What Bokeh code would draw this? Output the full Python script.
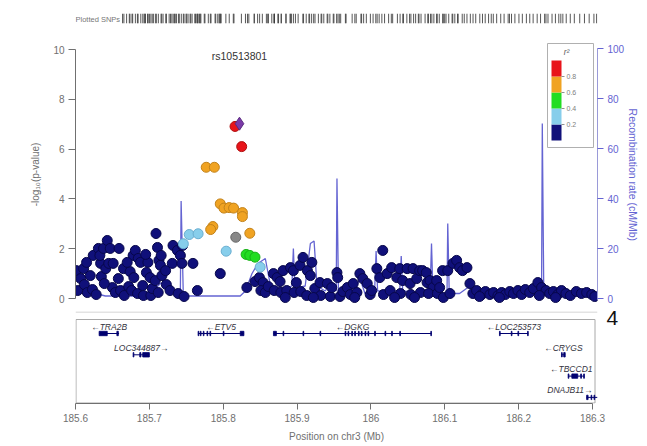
from bokeh.plotting import figure
from bokeh.layouts import column
from bokeh.models import Range1d, LinearAxis, FixedTicker, NumeralTickFormatter
from bokeh.core.properties import value
from bokeh.embed import file_html
from bokeh.resources import INLINE

FONT = "Liberation Sans"

# ---------------- association results, grouped by LD (r^2) with the lead SNP ----------------
lead_snp = "rs10513801"
lead_pos = [185.822]
lead_logp = [7.02]

r2_08_pos = [185.816, 185.825]
r2_08_logp = [6.91, 6.10]

r2_06_pos = [185.777, 185.788, 185.796, 185.801, 185.808, 185.814, 185.826, 185.826,
             185.786, 185.783, 185.836]
r2_06_logp = [5.27, 5.27, 3.80, 3.63, 3.65, 3.63, 3.45, 3.29, 2.89, 2.77, 2.62]

r2_04_pos = [185.831, 185.836, 185.843]
r2_04_logp = [1.77, 1.73, 1.66]

r2_02_pos = [185.746, 185.754, 185.766, 185.804, 185.850]
r2_02_logp = [2.20, 2.57, 2.60, 1.90, 1.26]

no_ld_pos = [185.817]
no_ld_logp = [2.46]

r2_00_pos = [
    185.601, 185.603, 185.607, 185.611, 185.612, 185.616, 185.620, 185.623, 185.624, 185.628,
    185.631, 185.634, 185.633, 185.635, 185.638, 185.641, 185.643, 185.645, 185.647, 185.650,
    185.651, 185.654, 185.659, 185.661, 185.665, 185.666, 185.672, 185.674, 185.676, 185.678,
    185.679, 185.681, 185.684, 185.685, 185.688, 185.691, 185.692, 185.696, 185.698, 185.701,
    185.702, 185.704, 185.708, 185.709, 185.711, 185.712, 185.713, 185.715, 185.716, 185.717,
    185.723, 185.728, 185.731, 185.732, 185.738, 185.739, 185.742, 185.745, 185.744, 185.747,
    185.759, 185.765, 185.796, 185.615, 185.658, 185.639, 185.695, 185.670, 185.722,
    185.832, 185.843, 185.849, 185.854, 185.851, 185.857, 185.861, 185.868, 185.873, 185.877,
    185.869, 185.878, 185.881, 185.886, 185.891, 185.895, 185.896, 185.899, 185.904, 185.908,
    185.905, 185.914, 185.913, 185.918, 185.920, 185.924, 185.931, 185.932, 185.941, 185.945,
    185.947, 185.954, 185.955, 185.958, 185.962, 185.968, 185.972, 185.976, 185.981, 185.985,
    185.989, 185.995, 185.999, 186.001, 186.008, 186.012, 186.016, 186.017, 186.022, 186.026,
    186.028, 186.035, 186.039, 186.040, 186.043, 186.049, 186.053, 186.054, 186.057, 186.062,
    186.066, 186.067, 186.070, 186.075, 186.076, 186.080, 186.084, 186.078, 186.089, 186.090,
    186.093, 186.097, 186.098, 186.104, 186.107, 186.111, 186.116, 186.120, 186.124, 186.130,
    186.134, 185.884, 185.922, 185.978, 186.032, 186.059,
    186.138, 186.143, 186.150, 186.155, 186.161, 186.166, 186.172, 186.177, 186.182, 186.188,
    186.193, 186.199, 186.204, 186.209, 186.215, 186.220, 186.226, 186.231, 186.237, 186.242,
    186.247, 186.253, 186.258, 186.264, 186.270, 186.278, 186.285, 186.292, 186.299, 186.303,
    186.147, 186.174, 186.228, 186.250,
]
r2_00_logp = [
    1.12, 0.32, 0.80, 1.20, 0.56, 0.24, 0.92, 0.36, 1.73, 0.16,
    2.01, 1.41, 1.73, 0.88, 2.01, 1.20, 2.33, 1.41, 2.01, 0.44,
    1.41, 0.24, 2.01, 0.32, 1.20, 0.12, 0.48, 1.08, 0.32, 1.73,
    0.84, 1.93, 0.20, 1.61, 1.45, 0.52, 0.12, 1.04, 1.45, 0.84,
    0.12, 0.40, 0.72, 2.61, 2.05, 0.24, 1.53, 1.33, 1.73, 0.92,
    0.56, 0.32, 1.41, 2.13, 1.93, 0.20, 1.73, 2.13, 1.41, 0.08,
    1.41, 0.32, 1.00, 1.45, 0.80, 0.60, 1.77, 1.45, 1.12,
    0.44, 0.68, 0.84, 0.64, 0.32, 0.24, 0.48, 1.00, 0.84, 0.68,
    0.32, 0.24, 1.12, 0.32, 1.24, 1.12, 0.24, 0.64, 1.33, 1.65,
    0.28, 1.12, 0.12, 0.92, 1.45, 0.40, 0.64, 0.12, 0.60, 0.08,
    0.44, 1.04, 0.84, 0.08, 0.28, 0.44, 0.16, 0.60, 0.24, 1.00,
    0.80, 0.60, 0.16, 0.32, 1.20, 0.84, 1.93, 0.16, 1.00, 0.32,
    1.24, 0.84, 1.20, 0.20, 0.72, 1.20, 0.60, 0.16, 1.20, 0.80,
    1.12, 0.24, 1.12, 1.04, 0.64, 0.72, 0.44, 0.20, 0.72, 0.20,
    0.44, 1.12, 0.04, 1.12, 0.20, 1.41, 1.53, 1.24, 1.12, 1.24,
    0.60, 0.04, 0.04, 0.04, 0.04, 0.04,
    0.20, 0.32, 0.16, 0.28, 0.16, 0.24, 0.12, 0.24, 0.16, 0.28,
    0.20, 0.32, 0.16, 0.36, 0.24, 0.40, 0.64, 0.44, 0.32, 0.20,
    0.28, 0.16, 0.32, 0.20, 0.12, 0.28, 0.20, 0.24, 0.16, 0.08,
    0.08, 0.04, 0.12, 0.04,
]

# ---------------- recombination rate (cM/Mb) ----------------
recomb_pos = [185.600, 185.627, 185.6405, 185.688, 185.701, 185.715, 185.728, 185.731, 185.742, 185.743,
              185.746, 185.823, 185.830, 185.839, 185.847, 185.857, 185.864, 185.884, 185.893, 185.895,
              185.897, 185.911, 185.918, 185.923, 185.927, 185.938, 185.945, 185.953, 185.954, 185.956,
              185.978, 185.985, 185.992, 186.005, 186.007, 186.009, 186.039, 186.041, 186.043, 186.080,
              186.082, 186.084, 186.103, 186.104, 186.106, 186.120, 186.134, 186.147, 186.231, 186.232,
              186.234, 186.305]
recomb_rate = [2.5, 2.0, 1.0, 1.0, 2.0, 6, 6, 3, 3, 39,
               1, 1, 3, 10, 14, 16, 5, 4, 5, 20,
               4, 5, 22, 23, 5, 3, 6, 3, 48, 3,
               3, 8, 2, 3, 19, 3, 3, 17, 3, 2,
               22, 2, 2, 30, 2, 2, 5, 2, 2, 70,
               2, 1]

# ---------------- genes ----------------
gene_names = ["TRA2B", "LOC344887", "ETV5", "DGKG", "LOC253573", "CRYGS", "TBCCD1", "DNAJB11"]
gene_strand = ["-", "+", "-", "-", "-", "-", "-", "+"]
gene_start = [185.632, 185.678, 185.766, 185.868, 186.174, 186.258, 186.267, 186.292]
gene_end = [185.659, 185.700, 185.828, 186.082, 186.213, 186.263, 186.289, 186.320]
gene_row = [0, 1, 0, 0, 0, 1, 2, 3]
gene_exons = [
    [(185.632, 185.643), (185.656, 185.658)],
    [(185.678, 185.679), (185.687, 185.6885), (185.691, 185.700)],
    [(185.766, 185.767), (185.769, 185.770), (185.773, 185.774), (185.778, 185.779),
     (185.782, 185.783), (185.800, 185.801), (185.823, 185.828)],
    [(185.868, 185.872), (185.881, 185.882), (185.908, 185.909), (185.931, 185.932),
     (185.965, 185.966), (185.969, 185.970), (185.974, 185.975), (185.978, 185.979),
     (185.983, 185.984), (185.987, 185.988), (185.992, 185.993), (185.996, 185.997),
     (186.005, 186.006), (186.019, 186.020), (186.028, 186.029), (186.039, 186.040),
     (186.081, 186.082)],
    [(186.174, 186.175), (186.190, 186.191), (186.199, 186.200), (186.212, 186.213)],
    [(186.258, 186.259), (186.261, 186.263)],
    [(186.267, 186.268), (186.272, 186.280), (186.284, 186.285), (186.288, 186.289)],
    [(186.292, 186.294), (186.298, 186.299), (186.302, 186.303)],
]

# ---------------- axes and legend scales ----------------
x_ticks = [185.6, 185.7, 185.8, 185.9, 186.0, 186.1, 186.2, 186.3]
logp_ticks = [0, 2, 4, 6, 8, 10]
recomb_ticks = [0, 20, 40, 60, 80, 100]
r2_ticks = [0.2, 0.4, 0.6, 0.8]
r2_palette = ["#10107a", "#87ceeb", "#22dd22", "#f0a322", "#e8141a"]
panel_number = "4"

# ---------------- layout (page pixels) ----------------
W, H = 647, 446
RUG_H = 30
F_LEFT, F_RIGHT = 75, 597
MAIN_TOP, MAIN_BOTTOM = 30, 304      # association frame
GENE_CANVAS_TOP = 304
GENE_F_TOP, GENE_F_BOTTOM = 311, 403  # gene-track frame
PX_PER_MB = 738.6
ZERO_PX = 298.0          # page row of -log10 p = 0
PX_PER_LOGP = 24.9
PX_PER_CM = 2.5
ROW0_PX = 326.0          # first gene label row
PX_PER_ROW = 21.3
GENE_BOX_TOP = 319.0
TITLE_MID_PX = 174.0
NUMBER_MID_PX = 317.0

x_lo = x_ticks[0]
x_hi = x_lo + (F_RIGHT - F_LEFT) / PX_PER_MB


def x_at(px):
    return x_lo + (px - F_LEFT) / PX_PER_MB


def logp_at(px):
    return (ZERO_PX - px) / PX_PER_LOGP


def row_at(px):
    return (px - ROW0_PX) / PX_PER_ROW


AX_GREY = "#707070"
REC_BLUE = "#6464d2"
NBSP = "\u00a0"


def clean(fig):
    fig.outline_line_color = None
    fig.xgrid.visible = False
    fig.ygrid.visible = False


def style_axis(ax, color, tick_out, standoff, label_standoff, label_size="10px"):
    ax.axis_line_color = color
    ax.major_tick_line_color = color
    ax.minor_tick_line_color = None
    ax.major_tick_in = 0
    ax.major_tick_out = tick_out
    ax.major_label_standoff = standoff
    ax.major_label_text_font = FONT
    ax.major_label_text_font_size = "10px"
    ax.major_label_text_color = color
    ax.axis_label_text_font = FONT
    ax.axis_label_text_font_size = label_size
    ax.axis_label_text_font_style = "normal"
    ax.axis_label_text_color = color
    ax.axis_label_standoff = label_standoff


x_range = Range1d(x_lo, x_hi)

# ---------------- rug of plotted SNPs ----------------
all_pos = r2_00_pos + r2_02_pos + r2_04_pos + r2_06_pos + r2_08_pos + no_ld_pos + lead_pos
RUG_L, RUG_R = 10, 598          # rug canvas frame
RUG_FIRST, RUG_LAST = 63, 597   # where the first / last SNP tick sits
rug_scale = (RUG_LAST - RUG_FIRST) / (max(all_pos) - min(all_pos))
rug_x0 = min(all_pos) - (RUG_FIRST - RUG_L) / rug_scale
rug_x1 = max(all_pos) + (RUG_R - RUG_LAST) / rug_scale

rug = figure(width=W, height=RUG_H, output_backend="svg", toolbar_location=None,
             x_range=Range1d(rug_x0, rug_x1), y_range=Range1d(0, 1),
             x_axis_location=None, y_axis_location=None,
             min_border_left=RUG_L, min_border_right=W - RUG_R, min_border_top=13, min_border_bottom=7)
clean(rug)
rug.segment(x0=all_pos, x1=all_pos, y0=[0] * len(all_pos), y1=[1] * len(all_pos),
            line_color="#3a3a3a", line_width=1, line_alpha=0.85)
rug.text(x=[rug_x0], y=[0.45], text=["Plotted SNPs"], text_font=value(FONT), text_font_size="7.5px",
         text_color="#777777", text_align="left", text_baseline="middle")

# ---------------- association panel ----------------
p = figure(width=W, height=MAIN_BOTTOM - RUG_H, output_backend="svg", toolbar_location=None,
           x_range=x_range, y_range=Range1d(logp_at(MAIN_BOTTOM), logp_at(MAIN_TOP)),
           x_axis_location=None, y_axis_location=None,
           min_border_left=F_LEFT, min_border_right=W - F_RIGHT,
           min_border_top=MAIN_TOP - RUG_H, min_border_bottom=0)
p.extra_y_ranges = {
    "recomb": Range1d((ZERO_PX - MAIN_BOTTOM) / PX_PER_CM, (ZERO_PX - MAIN_TOP) / PX_PER_CM),
}
clean(p)

# titles are padded so that they sit level with the middle of the plotted range
shift = 2 * (TITLE_MID_PX - (MAIN_TOP + MAIN_BOTTOM) / 2)
pad_left = NBSP * round(shift / (0.278 * 10))
pad_right = NBSP * round(shift / (0.278 * 10.5))

y_axis = LinearAxis(ticker=FixedTicker(ticks=logp_ticks), bounds=(logp_ticks[0], logp_ticks[-1]),
                    axis_label="-log\u2081\u2080(p-value)" + pad_left)
style_axis(y_axis, AX_GREY, 7, 4, 9)
p.add_layout(y_axis, "left")

r_axis = LinearAxis(y_range_name="recomb", ticker=FixedTicker(ticks=recomb_ticks),
                    bounds=(recomb_ticks[0], recomb_ticks[-1]),
                    axis_label=pad_right + "Recombination rate (cM/Mb)")
style_axis(r_axis, REC_BLUE, 6, 4, 0, "10.5px")
r_axis.axis_line_color = "#9a9ad8"
p.add_layout(r_axis, "right")

# recombination rate
p.line(recomb_pos, recomb_rate, y_range_name="recomb", line_color=REC_BLUE, line_width=1.3)

# SNPs, lowest LD first
pt = dict(marker="circle", size=10, line_width=1)
p.scatter(r2_00_pos, r2_00_logp, fill_color=r2_palette[0], line_color="#07074a", **pt)
p.scatter(r2_02_pos, r2_02_logp, fill_color=r2_palette[1], line_color="#6aaed0", **pt)
p.scatter(no_ld_pos, no_ld_logp, fill_color="#888888", line_color="#666666", **pt)
p.scatter(r2_04_pos, r2_04_logp, fill_color=r2_palette[2], line_color="#18b018", **pt)
p.scatter(r2_06_pos, r2_06_logp, fill_color=r2_palette[3], line_color="#c2821a", **pt)
p.scatter(r2_08_pos, r2_08_logp, fill_color=r2_palette[4], line_color="#b01010", **pt)
p.scatter(lead_pos, lead_logp, marker="diamond", size=13, fill_color="#7a3aa8",
          line_color="#5a2a80", line_width=1)
p.text(x=lead_pos, y=[logp_at(55)], text=[lead_snp], text_font=value(FONT), text_font_size="10.5px",
       text_color="#333333", text_align="center", text_baseline="middle")

# LD legend (r^2 colour key)
LEG_L, LEG_R, LEG_T, LEG_B = 547, 593, 43, 147
BAR_L, BAR_R, BAR_BOTTOM, BAR_LEN = 551, 561, 140, 80
edges = [0.0] + r2_ticks + [1.0]


def bar_y(v):
    return logp_at(BAR_BOTTOM - v * BAR_LEN)


p.quad(left=[x_at(LEG_L)], right=[x_at(LEG_R)], top=[logp_at(LEG_T)], bottom=[logp_at(LEG_B)],
       fill_color="white", line_color="#b0b0b0", line_width=1)
p.quad(left=[x_at(BAR_L)] * 5, right=[x_at(BAR_R)] * 5,
       bottom=[bar_y(v) for v in edges[:-1]], top=[bar_y(v) for v in edges[1:]],
       fill_color=r2_palette, line_color=None)
p.segment(x0=[x_at(BAR_R)] * 4, x1=[x_at(BAR_R + 3)] * 4,
          y0=[bar_y(v) for v in r2_ticks], y1=[bar_y(v) for v in r2_ticks],
          line_color="#909090", line_width=1)
p.text(x=[x_at(BAR_R + 5)] * 4, y=[bar_y(v) for v in r2_ticks], text=[f"{v:.1f}" for v in r2_ticks],
       text_font=value(FONT), text_font_size="7px", text_color="#808080",
       text_align="left", text_baseline="middle")
p.text(x=[x_at(566)], y=[logp_at(51)], text=["r\u00b2"], text_font=value(FONT), text_font_size="8.5px",
       text_font_style="italic", text_color="#606060", text_align="center", text_baseline="middle")

# ---------------- gene track ----------------
g = figure(width=W, height=H - GENE_CANVAS_TOP, output_backend="svg", toolbar_location=None,
           x_range=x_range, y_range=Range1d(row_at(GENE_F_BOTTOM), row_at(GENE_F_TOP)),
           x_axis_location=None, y_axis_location=None,
           min_border_left=F_LEFT, min_border_right=W - F_RIGHT,
           min_border_top=GENE_F_TOP - GENE_CANVAS_TOP, min_border_bottom=H - GENE_F_BOTTOM)
clean(g)

x_axis = LinearAxis(ticker=FixedTicker(ticks=x_ticks), formatter=NumeralTickFormatter(format="0.[0]"),
                    bounds=(x_ticks[0], x_ticks[-1]), axis_label="Position on chr3 (Mb)")
style_axis(x_axis, AX_GREY, 6, 4, 6)
g.add_layout(x_axis, "below")

# panel number in the right margin
num_tick = row_at(NUMBER_MID_PX)
num_axis = LinearAxis(ticker=FixedTicker(ticks=[num_tick]), major_label_overrides={num_tick: panel_number})
num_axis.axis_line_color = None
num_axis.major_tick_line_color = None
num_axis.minor_tick_line_color = None
num_axis.major_tick_in = 0
num_axis.major_tick_out = 0
num_axis.major_label_standoff = 9
num_axis.major_label_text_font = FONT
num_axis.major_label_text_font_size = "21px"
num_axis.major_label_text_color = "#111111"
g.add_layout(num_axis, "right")

# bottom edge of the association panel and the gene box
g.segment(x0=[x_lo], x1=[x_hi], y0=[row_at(GENE_F_TOP + 0.5)], y1=[row_at(GENE_F_TOP + 0.5)],
          line_color="#c8c8c8", line_width=1)
g.quad(left=[x_at(F_LEFT + 0.5)], right=[x_at(F_RIGHT - 2.5)],
       top=[row_at(GENE_BOX_TOP)], bottom=[row_at(GENE_F_BOTTOM - 0.5)],
       fill_color=None, line_color="#a8a8a8", line_width=1)

GENE_COLOR = "#000070"
for name, strand, g0, g1, row, exons in zip(gene_names, gene_strand, gene_start, gene_end,
                                            gene_row, gene_exons):
    body_y = row + 7.0 / PX_PER_ROW
    g1c = min(g1, x_hi)
    g.segment(x0=[g0], x1=[g1c], y0=[body_y], y1=[body_y], line_color=GENE_COLOR, line_width=1)
    half = 2.2 / PX_PER_ROW
    g.quad(left=[e[0] for e in exons], right=[e[1] for e in exons],
           top=[body_y - half] * len(exons), bottom=[body_y + half] * len(exons),
           fill_color=GENE_COLOR, line_color=GENE_COLOR, line_width=0.8)
    label = ("\u2190" + name) if strand == "-" else (name + "\u2192")
    half_w = len(label) * 5.4 / 2 / PX_PER_MB
    mid = (g0 + g1c) / 2
    right_limit = x_hi - 5 / PX_PER_MB
    if mid + half_w > right_limit:
        lx, align = right_limit, "right"
    else:
        lx, align = mid, "center"
    g.text(x=[lx], y=[row], text=[label], text_font=value(FONT),
           text_font_size="8.5px", text_font_style="italic", text_color="#333340",
           text_align=align, text_baseline="middle")

layout = column(rug, p, g)
open("out.html", "w").write(file_html(layout, INLINE))
